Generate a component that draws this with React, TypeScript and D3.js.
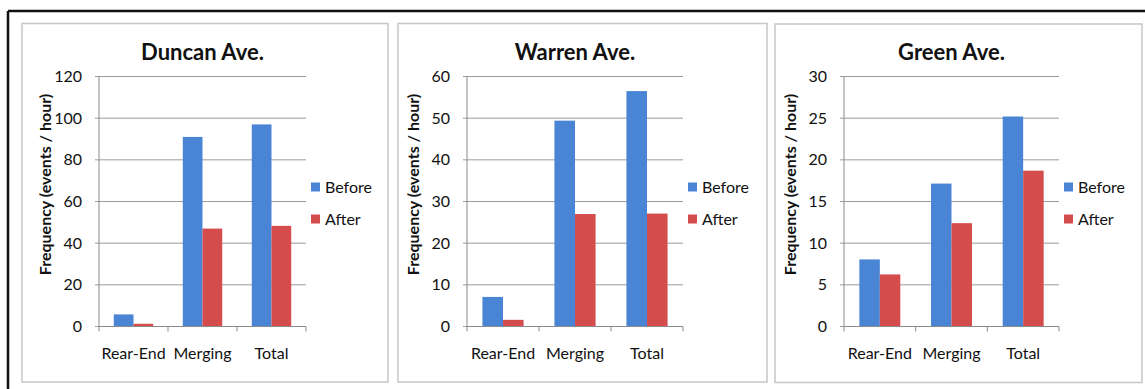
import React from "react";
import * as d3 from "d3";

// Category labels shared by all three panels
const categories = ["Rear-End", "Merging", "Total"];
const seriesNames = ["Before", "After"];

// Frequency (events / hour) per site
const duncanBefore = [5.8, 91, 97];
const duncanAfter = [1.3, 47, 48.3];
const warrenBefore = [7.1, 49.4, 56.5];
const warrenAfter = [1.6, 27, 27.1];
const greenBefore = [8.05, 17.15, 25.2];
const greenAfter = [6.25, 12.4, 18.7];

// Y-axis ticks per site
const duncanTicks = [0, 20, 40, 60, 80, 100, 120];
const warrenTicks = [0, 10, 20, 30, 40, 50, 60];
const greenTicks = [0, 5, 10, 15, 20, 25, 30];

const COLORS = ["#4a84d4", "#d44c4c"];
const FONT = "Lato, 'Open Sans', sans-serif";

type PanelProps = {
  title: string;
  before: number[];
  after: number[];
  ticks: number[];
  box: [number, number, number, number]; // panel frame x0, y0, x1, y1
  plotX: [number, number];
};

const PLOT_TOP = 76.5;
const PLOT_BOTTOM = 326.5;

function Panel({ title, before, after, ticks, box, plotX }: PanelProps) {
  const [bx0, by0, bx1, by1] = box;
  const x = d3.scaleBand<string>().domain(categories).range(plotX).paddingInner(0).paddingOuter(0);
  const y = d3
    .scaleLinear()
    .domain([0, ticks[ticks.length - 1]])
    .range([PLOT_BOTTOM, PLOT_TOP]);
  const bw = x.bandwidth();
  const barW = bw / 3.5; // gap width 150%
  const inner = d3.scaleBand<string>().domain(seriesNames).range([0.75 * barW, 2.75 * barW]);
  const series = [before, after];
  const titleX = (plotX[0] + plotX[1]) / 2;
  const legendX = plotX[1] + 5;

  return (
    <g>
      <rect x={bx0} y={by0} width={bx1 - bx0} height={by1 - by0} fill="#fff" stroke="#c6c6c6" strokeWidth={1.5} />
      <text x={titleX} y={60} textAnchor="middle" fontFamily={FONT} fontWeight={700} fontSize={22} fill="#111">
        {title}
      </text>
      {/* gridlines */}
      {ticks.map((t) => (
        <line key={"g" + t} x1={plotX[0] - 4} x2={plotX[1]} y1={y(t)} y2={y(t)} stroke="#9a9a9a" strokeWidth={1} />
      ))}
      {/* y axis */}
      <line x1={plotX[0]} x2={plotX[0]} y1={PLOT_TOP} y2={PLOT_BOTTOM} stroke="#8a8a8a" strokeWidth={1} />
      {ticks.map((t) => (
        <text
          key={"t" + t}
          x={plotX[0] - 17}
          y={y(t)}
          dy="0.35em"
          textAnchor="end"
          fontFamily={FONT}
          fontSize={16}
          fill="#111"
        >
          {t}
        </text>
      ))}
      <text
        transform={`translate(${plotX[0] - 54},${(PLOT_TOP + PLOT_BOTTOM) / 2 - 17}) rotate(-90)`}
        textAnchor="middle"
        dy="0.35em"
        fontFamily={FONT}
        fontWeight={700}
        fontSize={16}
        fill="#111"
      >
        Frequency (events / hour)
      </text>
      {/* bars */}
      {categories.map((c, i) =>
        seriesNames.map((s, j) => {
          const v = series[j][i];
          return (
            <rect
              key={c + s}
              x={(x(c) as number) + (inner(s) as number)}
              y={y(v)}
              width={inner.bandwidth()}
              height={PLOT_BOTTOM - y(v)}
              fill={COLORS[j]}
            />
          );
        })
      )}
      {/* x axis */}
      <line x1={plotX[0]} x2={plotX[1]} y1={PLOT_BOTTOM} y2={PLOT_BOTTOM} stroke="#8a8a8a" strokeWidth={1} />
      {[...categories.map((c) => x(c) as number), plotX[1]].map((p, i) => (
        <line key={"xt" + i} x1={p} x2={p} y1={PLOT_BOTTOM} y2={PLOT_BOTTOM + 5} stroke="#8a8a8a" strokeWidth={1} />
      ))}
      {categories.map((c) => (
        <text
          key={"xl" + c}
          x={(x(c) as number) + bw / 2}
          y={359}
          textAnchor="middle"
          fontFamily={FONT}
          fontSize={16}
          fill="#111"
        >
          {c}
        </text>
      ))}
      {/* legend */}
      {seriesNames.map((s, j) => (
        <g key={"lg" + s} transform={`translate(${legendX},${187 + j * 32})`}>
          <rect x={0} y={-4.5} width={9} height={9} fill={COLORS[j]} />
          <text x={14} y={0} dy="0.35em" fontFamily={FONT} fontSize={16} fill="#111">
            {s}
          </text>
        </g>
      ))}
    </g>
  );
}

export default function App() {
  return (
    <svg
      width={1145}
      height={389}
      style={{ position: "absolute", left: 0, top: 0, background: "#fff" }}
    >
      <rect x={0} y={0} width={1145} height={389} fill="#fff" />
      {/* outer frame */}
      <line x1={8} x2={1145} y1={11} y2={11} stroke="#111" strokeWidth={2.5} />
      <line x1={8} x2={8} y1={11} y2={389} stroke="#111" strokeWidth={2.5} />
      <Panel
        title="Duncan Ave."
        before={duncanBefore}
        after={duncanAfter}
        ticks={duncanTicks}
        box={[22, 23.5, 388, 382]}
        plotX={[99, 306]}
      />
      <Panel
        title="Warren Ave."
        before={warrenBefore}
        after={warrenAfter}
        ticks={warrenTicks}
        box={[398, 23.5, 767, 382]}
        plotX={[467, 683]}
      />
      <Panel
        title="Green Ave."
        before={greenBefore}
        after={greenAfter}
        ticks={greenTicks}
        box={[775, 24, 1142, 382.5]}
        plotX={[844, 1059]}
      />
    </svg>
  );
}
